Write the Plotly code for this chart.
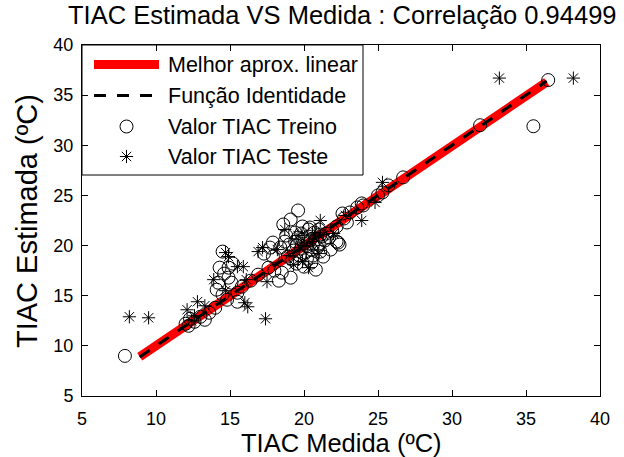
import plotly.graph_objects as go

# Training set: measured vs estimated TIAC (ºC)
train_measured = [7.9, 12.0, 12.3, 12.2, 12.6, 13.0, 13.3, 13.6, 14.0, 14.2, 14.1, 14.5, 14.3, 14.9,
                  14.5, 15.1, 15.5, 15.5, 14.8, 15.8, 16.4, 16.9, 14.6, 15.2, 14.9, 17.7, 17.3, 17.9,
                  18.4, 18.9, 18.5, 19.1, 18.3, 17.6, 18.0, 19.6, 19.1, 18.6, 19.9, 19.4, 20.3, 18.8,
                  17.9, 21.3, 22.3, 21.8, 21.1, 20.5, 20.8,
                  19.5, 19.8, 20.0, 20.2, 20.4, 20.6, 20.8, 21.0, 20.1, 19.7, 19.3, 19.0, 20.5, 20.9,
                  21.2, 21.5, 20.3, 19.9, 19.6, 20.7, 21.0, 21.4, 21.7, 19.2, 19.5, 20.2, 20.0, 18.7,
                  19.4, 20.6, 21.9, 22.2, 21.1, 20.4, 19.8,
                  22.7, 23.1, 22.6, 23.6, 23.9, 24.0, 22.9, 25.3, 25.7, 25.0, 26.7, 22.2, 22.4, 31.9,
                  35.5, 36.5]
train_estimated = [9.0, 12.2, 12.7, 12.0, 12.4, 12.9, 12.6, 13.3, 13.8, 16.3, 15.6, 15.1, 17.8, 17.8,
                   19.4, 16.3, 15.3, 14.4, 14.6, 15.9, 16.5, 17.1, 17.2, 18.2, 16.8, 19.8, 19.2, 18.9,
                   19.8, 18.9, 17.3, 16.8, 16.5, 17.8, 17.5, 23.5, 22.6, 22.1, 21.9, 21.3, 21.6, 21.0,
                   20.3, 18.9, 20.3, 19.6, 19.4, 18.3, 17.6,
                   20.0, 19.7, 20.2, 19.9, 20.5, 20.1, 20.6, 20.2, 19.3, 19.0, 19.5, 20.1, 19.6, 19.8,
                   20.9, 21.2, 20.9, 20.6, 20.8, 21.3, 21.6, 20.5, 20.8, 18.6, 18.2, 18.7, 17.9, 20.4,
                   20.4, 19.0, 21.5, 21.9, 21.1, 21.8, 21.2,
                   22.7, 23.3, 23.2, 23.8, 24.2, 24.0, 22.3, 25.3, 26.0, 25.0, 26.8, 20.4, 20.1, 32.0,
                   31.9, 36.5]

# Test set
test_measured = [8.2, 9.5, 17.4, 33.2, 38.2, 12.1, 12.8, 12.4, 13.9, 14.9, 15.5, 16.0, 16.2, 16.1,
                 16.9, 17.5, 15.9, 17.2, 19.9, 20.3, 21.1, 18.2, 19.0, 20.0, 20.6, 21.3, 21.0, 19.6,
                 22.0, 23.9, 24.8, 25.3, 22.8, 14.7, 13.3, 12.6, 18.7, 20.8, 19.3, 14.7]
test_estimated = [12.9, 12.8, 12.7, 36.7, 36.7, 13.6, 14.4, 12.5, 16.6, 18.9, 17.9, 14.3, 13.9, 16.6,
                  19.4, 16.4, 17.9, 19.8, 18.4, 17.8, 22.5, 19.6, 19.0, 20.0, 20.4, 21.1, 19.2, 21.0,
                  21.2, 22.5, 24.3, 26.3, 23.0, 15.5, 14.0, 13.0, 21.6, 21.3, 18.1, 19.3]

# Linear fit and identity line over the fitted range
fit_slope = 0.996
fit_intercept = 0.05
fit_range = [8.9, 36.4]
correlation = "0.94499"

x_ticks = [5, 10, 15, 20, 25, 30, 35, 40]
y_ticks = [5, 10, 15, 20, 25, 30, 35, 40]

legend_labels = ["Melhor aprox. linear", "Função Identidade", "Valor TIAC Treino", "Valor TIAC Teste"]

FONT = "Liberation Sans, Arial, Helvetica, sans-serif"
W, H = 624, 457
ML, MR, MT, MB = 82, 24, 45, 61
PW, PH = W - ML - MR, H - MT - MB


def px_x(px):
    return (px - ML) / PW


def px_y(py):
    return 1 - (py - MT) / PH


fig = go.Figure()

fig.add_trace(go.Scatter(
    x=fit_range, y=[fit_slope * v + fit_intercept for v in fit_range],
    mode="lines", line=dict(color="#ff0000", width=9), showlegend=False, hoverinfo="skip"))
fig.add_trace(go.Scatter(
    x=fit_range, y=fit_range,
    mode="lines", line=dict(color="black", width=3, dash="12px,11px"), showlegend=False, hoverinfo="skip"))
fig.add_trace(go.Scatter(
    x=train_measured, y=train_estimated, mode="markers",
    marker=dict(symbol="circle-open", size=13, color="black", line=dict(width=1)),
    showlegend=False))
fig.add_trace(go.Scatter(
    x=test_measured, y=test_estimated, mode="markers",
    marker=dict(symbol="asterisk-open", size=11, color="black", line=dict(width=1)),
    showlegend=False))

# Legend box drawn in plot-fraction coordinates
box_right, box_bottom = px_x(363), px_y(175)
shapes = [dict(type="rect", xref="paper", yref="paper", x0=0, x1=box_right, y0=box_bottom, y1=1,
               line=dict(color="black", width=1), fillcolor="white", layer="below")]
row_y = [64.5, 95.5, 126.5, 156.5]
sx0, sx1, mx, tx = px_x(94), px_x(159), 126.5, 166
shapes.append(dict(type="line", xref="paper", yref="paper", x0=sx0, x1=sx1,
                   y0=px_y(row_y[0]), y1=px_y(row_y[0]), line=dict(color="#ff0000", width=9)))
shapes.append(dict(type="line", xref="paper", yref="paper", x0=sx0, x1=sx1,
                   y0=px_y(row_y[1]), y1=px_y(row_y[1]),
                   line=dict(color="black", width=3, dash="12px,11px")))

# Legend marker samples on an overlay axis spanning the plot area
fig.add_trace(go.Scatter(
    x=[px_x(mx)], y=[px_y(row_y[2])], xaxis="x2", yaxis="y2", mode="markers",
    marker=dict(symbol="circle-open", size=13, color="black", line=dict(width=1)),
    showlegend=False, hoverinfo="skip"))
fig.add_trace(go.Scatter(
    x=[px_x(mx)], y=[px_y(row_y[3])], xaxis="x2", yaxis="y2", mode="markers",
    marker=dict(symbol="asterisk-open", size=11, color="black", line=dict(width=1)),
    showlegend=False, hoverinfo="skip"))

annotations = []
for label, ry in zip(legend_labels, row_y):
    annotations.append(dict(text=label, xref="paper", yref="paper", x=px_x(tx), y=px_y(ry),
                            xanchor="left", yanchor="middle", showarrow=False,
                            font=dict(family=FONT, size=21.5, color="black")))

# Chart title, right edge aligned near the page edge
annotations.append(dict(text=f"TIAC Estimada VS Medida : Correlação {correlation}",
                        xref="paper", yref="paper", x=px_x(619), y=px_y(15),
                        xanchor="right", yanchor="middle", showarrow=False,
                        font=dict(family=FONT, size=25.5, color="black")))

# Axis titles
annotations.append(dict(text="TIAC Medida (ºC)", xref="paper", yref="paper",
                        x=px_x(341), y=px_y(443), xanchor="center", yanchor="middle",
                        showarrow=False, font=dict(family=FONT, size=25.5, color="black")))
annotations.append(dict(text="TIAC Estimada (ºC)", xref="paper", yref="paper",
                        x=px_x(27), y=px_y(221), xanchor="center", yanchor="middle",
                        textangle=-90, showarrow=False,
                        font=dict(family=FONT, size=29, color="black")))

axis_common = dict(
    showline=True, linecolor="black", linewidth=1, mirror="ticks",
    ticks="inside", ticklen=6, tickcolor="black", tickwidth=1, automargin=False,
    showgrid=False, zeroline=False, tickfont=dict(family=FONT, size=18, color="black"),
)

fig.update_layout(
    width=W, height=H, autosize=False,
    margin=dict(l=ML, r=MR, t=MT, b=MB),
    paper_bgcolor="white", plot_bgcolor="white",
    showlegend=False,
    xaxis=dict(range=[5, 40], tickvals=x_ticks, ticklabelstandoff=6, **axis_common),
    yaxis=dict(range=[5, 40], tickvals=y_ticks, ticklabelstandoff=4, **axis_common),
    xaxis2=dict(range=[0, 1], overlaying="x", visible=False, fixedrange=True),
    yaxis2=dict(range=[0, 1], overlaying="y", visible=False, fixedrange=True),
    shapes=shapes,
    annotations=annotations,
)

fig.write_html("out.html")
